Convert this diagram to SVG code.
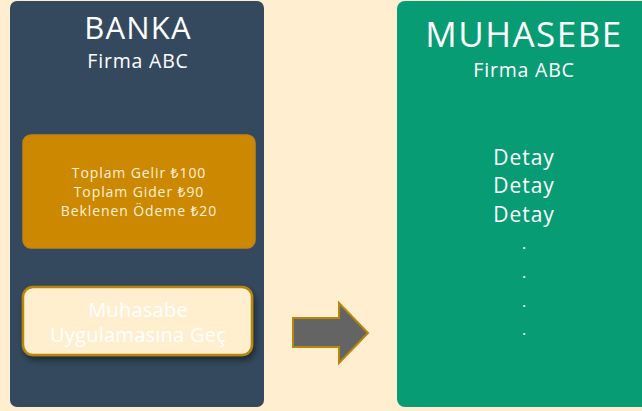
<svg xmlns="http://www.w3.org/2000/svg" width="642" height="411" viewBox="0 0 642 411">
<defs>
<filter id="sh" x="-10%" y="-20%" width="130%" height="160%">
<feDropShadow dx="2" dy="4" stdDeviation="3" flood-color="#000" flood-opacity="0.45"/>
</filter>
</defs>
<style>
text{font-family:"Open Sans","Noto Sans","DejaVu Sans",sans-serif;fill:#fff;text-anchor:middle;font-weight:400}
.t1{font-size:31px;letter-spacing:1.2px}
.t2{font-size:19.5px;letter-spacing:0.8px}
.sm{font-size:14px;letter-spacing:0.9px;fill:#fdf1dc}
.btn{font-size:20px;letter-spacing:0.25px;fill:#fff}
.det{font-size:21px;letter-spacing:1px}
.dot{font-size:16px}
</style>
<rect width="642" height="411" fill="#FFEFD0"/>
<g id="banka">
<rect x="10" y="1" width="254" height="406" rx="7" fill="#34495E"/>
<text class="t1" x="138" y="39">BANKA</text>
<text class="t2" x="138" y="68">Firma ABC</text>
</g>
<g id="ozet">
<rect x="23" y="135" width="232" height="113" rx="8" fill="#CC8800" stroke="#C4850A" stroke-width="1.5"/>
<text class="sm" x="139" y="178">Toplam Gelir ₺100</text>
<text class="sm" x="139" y="197">Toplam Gider ₺90</text>
<text class="sm" x="139" y="216">Beklenen Ödeme ₺20</text>
</g>
<g id="gecis">
<rect x="23" y="287" width="229" height="68" rx="10" fill="#FFEFCF" stroke="#B8860B" stroke-width="2.5" filter="url(#sh)"/>
<text class="btn" x="138" y="317">Muhasabe</text>
<text class="btn" x="138" y="342">Uygulamasına Geç</text>
</g>
<g id="muhasebe">
<rect x="397" y="1" width="260" height="406" rx="8" fill="#089C74"/>
<text class="t1" x="524" y="47" style="font-size:35px;letter-spacing:1.5px">MUHASEBE</text>
<text class="t2" x="524" y="77">Firma ABC</text>
<text class="det" x="524" y="165">Detay</text>
<text class="det" x="524" y="193">Detay</text>
<text class="det" x="524" y="222">Detay</text>
<text class="dot" x="524" y="249">.</text>
<text class="dot" x="524" y="278">.</text>
<text class="dot" x="524" y="307">.</text>
<text class="dot" x="524" y="335">.</text>
</g>
<g id="connectors">
<polygon points="293,318 339,318 339,303 368,333 339,363 339,347 293,347" fill="#646464" stroke="#B8860B" stroke-width="2" stroke-linejoin="miter"/>
</g>
</svg>
